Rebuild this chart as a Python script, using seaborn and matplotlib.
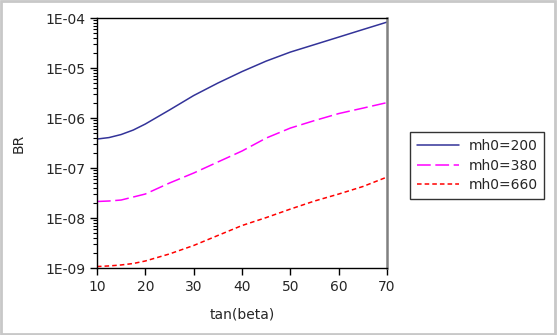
import math
import matplotlib
matplotlib.use("Agg")
import matplotlib.pyplot as plt
import matplotlib.ticker as mticker
import pandas as pd
import seaborn as sns

# values
tan_beta = [10, 12.5, 15, 17.5, 20, 25, 30, 35, 40, 45, 50, 55, 60, 65, 70]
br_200 = [3.80e-7, 4.07e-7, 4.68e-7, 5.75e-7, 7.59e-7, 1.45e-6, 2.82e-6, 5.01e-6,
          8.51e-6, 1.38e-5, 2.09e-5, 2.95e-5, 4.17e-5, 5.90e-5, 8.32e-5]
br_380 = [2.14e-8, 2.19e-8, 2.29e-8, 2.63e-8, 3.02e-8, 5.01e-8, 7.94e-8, 1.32e-7,
          2.19e-7, 3.98e-7, 6.31e-7, 8.91e-7, 1.23e-6, 1.58e-6, 2.04e-6]
br_660 = [1.07e-9, 1.10e-9, 1.15e-9, 1.23e-9, 1.38e-9, 1.91e-9, 2.82e-9, 4.47e-9,
          7.08e-9, 1.02e-8, 1.51e-8, 2.19e-8, 3.02e-8, 4.27e-8, 6.61e-8]
labels = ['mh0=200', 'mh0=380', 'mh0=660']
colors = ['#333399', '#ff00ff', '#ff0000']
dashes = [None, (9, 3), (3, 2)]

sns.set_style('white')
plt.rcParams['font.family'] = ['DejaVu Sans']

fig = plt.figure(figsize=(5.57, 3.35), dpi=100)
ax = fig.add_axes([0.174, 0.2, 0.521, 0.746])

for vals, lab, col, ds in zip([br_200, br_380, br_660], labels, colors, dashes):
    df = pd.DataFrame({'tan': tan_beta, 'br': vals})
    sns.lineplot(data=df, x='tan', y='br', ax=ax, color=col,
                 linewidth=1.1, label=lab)
    if ds is not None:
        ax.lines[-1].set_dashes(ds)

ax.set_yscale('log')
ax.set_xlim(10, 70)
ax.set_ylim(1e-9, 1e-4)
ax.set_xticks([10, 20, 30, 40, 50, 60, 70])
ax.yaxis.set_major_locator(mticker.LogLocator(base=10, numticks=10))
ax.yaxis.set_minor_locator(mticker.LogLocator(base=10, subs=range(2, 10), numticks=10))
ax.yaxis.set_major_formatter(mticker.FuncFormatter(
    lambda v, p: '1E%03d' % round(math.log10(v)) if v > 0 else ''))
ax.yaxis.set_minor_formatter(mticker.NullFormatter())
ax.tick_params(axis='both', which='major', direction='out', length=5, width=1,
               labelsize=10, color='black', left=True, bottom=True)
ax.tick_params(axis='y', which='minor', direction='out', length=3, width=0.8,
               left=True, color='black')
ax.set_xlabel('tan(beta)', fontsize=10, labelpad=10)
ax.set_ylabel('BR', fontsize=10, labelpad=14)

for s in ['left', 'bottom', 'top']:
    ax.spines[s].set_color('black')
    ax.spines[s].set_linewidth(1)
ax.spines['right'].set_color('#808080')
ax.spines['right'].set_linewidth(1.8)

leg = ax.legend(loc='upper left', bbox_to_anchor=(410 / 557, 1 - 132 / 335),
                bbox_transform=fig.transFigure, borderaxespad=0,
                fancybox=False, frameon=True, edgecolor='black', fontsize=10,
                handlelength=3.0, borderpad=0.5, labelspacing=0.4,
                handletextpad=0.7)
leg.get_frame().set_linewidth(1)

fig.patches.append(plt.Rectangle((0.002, 0.003), 0.995, 0.993, transform=fig.transFigure,
                                 fill=False, edgecolor='#c8c8c8', linewidth=2))

fig.savefig('out.png', dpi=100)
